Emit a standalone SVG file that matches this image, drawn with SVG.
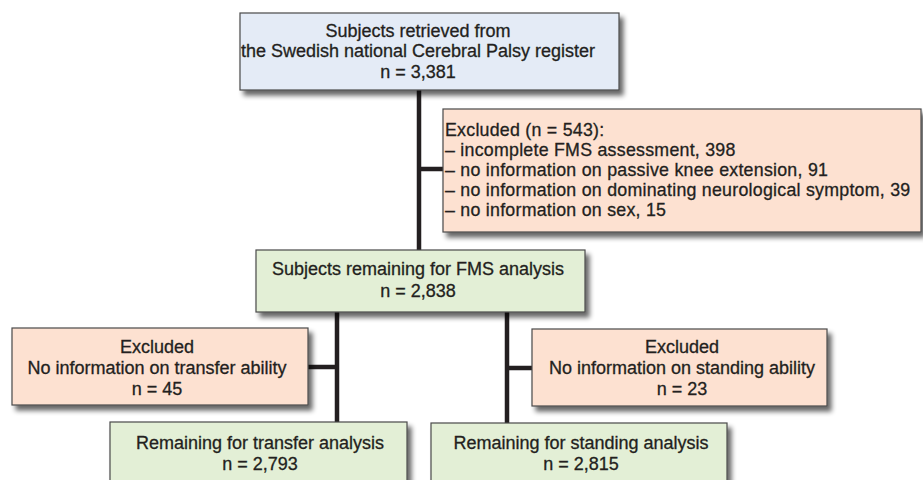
<svg xmlns="http://www.w3.org/2000/svg" width="923" height="480" viewBox="0 0 923 480">
<defs>
<filter id="sh" x="-5%" y="-10%" width="115%" height="130%">
<feGaussianBlur in="SourceAlpha" stdDeviation="2.5"/>
<feOffset dx="3.5" dy="4.5" result="b"/>
<feComponentTransfer><feFuncA type="linear" slope="0.6"/></feComponentTransfer>
<feMerge><feMergeNode/><feMergeNode in="SourceGraphic"/></feMerge>
</filter>
</defs>
<style>
.box{stroke:#4a4a4a;stroke-width:1.2;filter:url(#sh)}
.blue{fill:#e4ebf6}
.orange{fill:#fde1d1}
.green{fill:#e3efd6}
text{font-family:"Liberation Sans",Arial,Helvetica,sans-serif;font-size:18px;fill:#231f20;stroke:#231f20;stroke-width:0.3}
.list{font-size:17.8px;letter-spacing:0.25px}
.c{text-anchor:middle}
.conn{stroke:#231f20;stroke-width:4.5;fill:none}
</style>
<rect width="923" height="480" fill="#ffffff"/>
<g id="connectors">
<path class="conn" d="M419,90 V250 M419,169 H444"/>
<path class="conn" d="M337,312 V422 M337,367 H308"/>
<path class="conn" d="M507,312 V423 M507,368 H532"/>
</g>
<g id="retrieved">
<rect class="box blue" x="240" y="13" width="379" height="77"/>
<text class="c" x="418" y="37">Subjects retrieved from</text>
<text class="c" x="418" y="57">the Swedish national Cerebral Palsy register</text>
<text class="c" x="418" y="78">n = 3,381</text>
</g>
<g id="excluded1">
<rect class="box orange" x="443" y="109" width="478" height="123"/>
<text class="list" x="445" y="136">Excluded (n = 543):</text>
<text class="list" x="445" y="156">– incomplete FMS assessment, 398</text>
<text class="list" x="445" y="176">– no information on passive knee extension, 91</text>
<text class="list" x="445" y="196">– no information on dominating neurological symptom, 39</text>
<text class="list" x="445" y="216">– no information on sex, 15</text>
</g>
<g id="fms">
<rect class="box green" x="256" y="250" width="329" height="62"/>
<text class="c" x="418" y="275">Subjects remaining for FMS analysis</text>
<text class="c" x="418" y="297">n = 2,838</text>
</g>
<g id="excluded-transfer">
<rect class="box orange" x="12" y="328" width="296" height="77"/>
<text class="c" x="157" y="353">Excluded</text>
<text class="c" x="157" y="374">No information on transfer ability</text>
<text class="c" x="157" y="395">n = 45</text>
</g>
<g id="excluded-standing">
<rect class="box orange" x="532" y="329" width="295" height="77"/>
<text class="c" x="682" y="353">Excluded</text>
<text class="c" x="682" y="374">No information on standing ability</text>
<text class="c" x="682" y="395">n = 23</text>
</g>
<g id="transfer">
<rect class="box green" x="110" y="422" width="297" height="70"/>
<text class="c" x="260" y="449">Remaining for transfer analysis</text>
<text class="c" x="260" y="470">n = 2,793</text>
</g>
<g id="standing">
<rect class="box green" x="431" y="423" width="296" height="70"/>
<text class="c" x="581" y="449">Remaining for standing analysis</text>
<text class="c" x="581" y="470">n = 2,815</text>
</g>
</svg>
